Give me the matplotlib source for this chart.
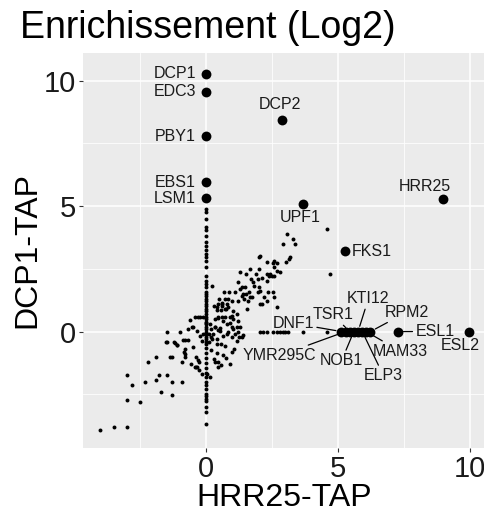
import matplotlib
matplotlib.use("Agg")
import matplotlib.pyplot as plt

plt.rcParams['font.family'] = ['Liberation Sans', 'DejaVu Sans']

# Labelled proteins (log2 enrichment in each pull-down)
GENES = ["DCP1", "EDC3", "PBY1", "EBS1", "LSM1", "DCP2", "HRR25", "UPF1", "FKS1",
         "DNF1", "YMR295C", "TSR1", "NOB1", "KTI12", "ELP3", "MAM33", "RPM2",
         "ESL1", "ESL2"]
GX = [0.0, 0.0, 0.0, 0.0, 0.0, 2.88, 8.98, 3.67, 5.27,
      5.13, 5.29, 5.44, 5.60, 5.76, 5.92, 6.07, 6.23,
      7.27, 9.96]
GY = [10.28, 9.56, 7.78, 5.95, 5.32, 8.45, 5.28, 5.08, 3.20,
      0.0, 0.0, 0.0, 0.0, 0.0, 0.0, 0.0, 0.0,
      0.0, 0.0]

# Label placement (text anchor) and whether a leader segment is drawn
LABEL_X = [-0.38, -0.38, -0.38, -0.38, -0.38, 2.80, 8.30, 3.56, 5.53,
           3.31, 2.80, 4.82, 5.14, 6.15, 6.72, 7.35, 7.60,
           8.67, 9.62]
LABEL_Y = [10.28, 9.56, 7.78, 5.95, 5.32, 9.06, 5.79, 4.54, 3.21,
           0.33, -0.95, 0.66, -1.15, 1.30, -1.75, -0.78, 0.77,
           0.0, -0.56]
LABEL_HA = ["right", "right", "right", "right", "right", "center", "center", "center", "left",
            "center", "center", "center", "center", "center", "center", "center", "center",
            "center", "center"]
LEADER = [False, False, False, False, False, False, False, False, False,
          True, True, True, True, True, True, True, True,
          True, False]

# Remaining proteins (unlabelled)
X_BG = [
    # column of proteins only detected with DCP1-TAP
    0, 0, 0, 0, 0, 0, 0, 0, 0, 0, 0, 0, 0, 0, 0, 0, 0, 0, 0, 0,
    0, 0, 0, 0, 0, 0, 0, 0, 0, 0, 0, 0, 0, 0, 0, 0, 0, 0, 0, 0,
    0, 0, 0, 0, 0, 0, 0, 0, 0, 0, 0, 0, 0, 0, 0, 0, 0,
    # lower left
    -4.01, -3.48, -2.99, -2.99, -2.49, -2.99, -2.79, -2.30, -2.20, -1.89,
    -1.79, -1.49, -1.69, -1.30, -1.30, -0.90, -0.90, -0.39, -0.29, -1.88,
    -1.29, -0.78, -1.49, -1.49, -1.17, -1.09, -0.98, -0.88, -0.78, -0.68,
    -0.69, -0.82, -0.49, -0.49, -0.35, -0.39, -0.35, -0.25, -0.23, -0.52,
    -0.80, -0.80, -1.52, -1.21, -1.11, -1.36, -0.10, -0.42, -0.23, -0.16,
    -0.42, -0.25, -0.12, -0.55, -0.30, -0.15, -0.60,
    # around the origin, right side
    0.10, 0.15, 0.20, 0.12, 0.18, 0.35, 0.45, 0.52, 0.56, 0.40,
    0.78, 0.90, 1.00, 1.16, 0.78, 0.34, 0.47, 0.60, 0.72, 0.40,
    0.55, 0.76, 0.29, 0.45, 0.60, 0.72, 0.02, 0.15, 0.34, 0.47,
    0.20, 0.40, 0.66, 1.00, 0.47, 0.30, 0.55, 0.75, 1.05, 0.90,
    0.28, 0.34, 0.22, 0.40, 0.72, 0.53, 0.66, 0.85, 0.97, 1.38,
    1.03, 1.29, 1.22, 0.91, 0.66, 0.47, 1.16, 1.03, 0.85, 0.72,
    0.59, 0.40, 1.54, 0.97, 1.03, 1.16, 1.22, 1.10, 1.24, 1.41,
    0.22,
    # rising cloud
    0.49, 0.85, 0.97, 1.22, 1.60, 2.11, 0.59, 0.78, 0.69, 0.88,
    1.10, 1.29, 1.40, 1.50, 1.62, 1.67, 1.98, 1.20, 1.38, 1.49,
    2.00, 2.36, 2.59, 2.21, 1.70, 1.77, 1.83, 2.11, 2.30, 2.40,
    2.50, 2.59, 1.29, 1.50, 1.89, 1.98, 1.67, 2.00, 2.30, 2.00,
    2.59, 2.68, 3.03, 3.14, 3.19, 2.59, 2.81, 2.90, 3.08, 3.28,
    3.38, 4.58, 4.68, 1.73, 2.05, 2.30, 2.42, 2.68, 2.55, 2.05,
    2.05, 2.30, 2.55, 2.68, 1.45, 1.36,
    # row of proteins only detected with HRR25-TAP
    2.05, 2.17, 2.30, 2.55, 2.68, 2.80, 2.90, 2.99, 3.12, 3.69, 4.57,
]
Y_BG = [
    4.89, 4.76, 4.50, 4.17, 4.04, 3.81, 3.57, 3.41, 3.24, 3.08,
    2.98, 2.82, 2.58, 2.22, 2.02, 1.89, 1.76, 1.56, 1.43, 1.30,
    1.20, 1.10, 1.00, 0.90, 0.80, 0.70, 0.60, 0.50, 0.40, 0.30,
    0.20, 0.10, 0.00, -0.10, -0.20, -0.30, -0.40, -0.50, -0.65, -0.87,
    -1.07, -1.27, -1.47, -1.67, -1.83, -2.02, -2.12, -2.27, -2.47, -2.58,
    -2.67, -2.77, -3.00, -3.20, -3.70, 1.50, 0.35,
    # lower left
    -3.92, -3.81, -3.81, -2.71, -2.82, -1.72, -2.12, -2.02, -1.22, -1.92,
    -1.72, -1.72, -2.42, -2.51, -2.02, -2.02, -1.22, -1.42, -1.15, -1.00,
    -1.00, -1.00, -0.03, -0.41, -0.45, -0.54, -0.03, -0.32, -0.32, -0.32,
    0.11, -0.82, -0.62, 0.17, 0.04, -1.02, -1.42, -1.22, -0.16, 0.20,
    -0.69, -0.89, -0.42, -0.42, -0.53, -1.00, -0.10, 0.60, 0.60, -1.68,
    -1.42, -1.55, 0.60, -1.30, 0.60, -0.36, 0.45,
    # around the origin, right side
    -0.10, 0.30, -0.20, -0.40, 0.10, 0.20, 0.05, 0.15, -0.50, -0.30,
    0.30, 0.35, 0.20, -0.36, -0.10, 0.52, 0.55, 0.57, 0.57, 0.84,
    0.86, 0.90, 1.00, 1.10, 1.15, 1.30, -1.68, -1.81, -1.22, -1.42,
    -0.75, -0.85, -0.95, -0.80, -1.20, -1.10, -1.35, -1.05, -0.70, -1.30,
    -0.09, 0.17, -0.29, -0.49, -0.56, 0.04, -0.16, -0.03, -0.22, -0.22,
    0.11, 0.17, 0.44, 0.57, 0.44, 0.57, 0.70, 0.83, 0.96, 0.90,
    1.03, 0.96, 0.90, 0.63, 0.50, 0.17, 0.00, -0.10, -0.22, -0.15,
    1.80,
    # rising cloud
    1.30, 1.30, 1.23, 1.23, 1.23, 1.10, 1.10, 1.10, 1.59, 1.59,
    1.59, 1.69, 1.48, 1.48, 1.56, 1.36, 1.59, 1.98, 1.79, 1.79,
    1.79, 1.56, 1.39, 1.39, 2.09, 1.96, 1.83, 2.13, 2.29, 2.22,
    2.22, 2.22, 2.38, 2.29, 2.29, 2.09, 2.49, 2.49, 2.79, 2.98,
    2.82, 2.75, 2.78, 2.91, 2.98, 2.58, 2.38, 3.48, 3.90, 3.68,
    3.48, 4.07, 2.29, 1.36, 1.63, 2.02, 2.29, 2.42, 2.75, 3.02,
    1.10, 1.23, 1.56, 0.96, 1.30, 1.43,
    # row of proteins only detected with HRR25-TAP
    0.00, 0.00, 0.00, 0.00, 0.00, 0.00, 0.00, 0.00, 0.00, 0.00, 0.00,
]

X_TICKS = [0, 5, 10]
Y_TICKS = [0, 5, 10]

fig = plt.figure(figsize=(4.85, 5.13), dpi=100)
ax = fig.add_axes([83 / 485, 65 / 513, 402 / 485, 395 / 513])
ax.set_facecolor("#EBEBEB")
for s in ax.spines.values():
    s.set_visible(False)

ax.set_xlim(-4.66, 10.57)
ax.set_ylim(-4.64, 11.1)
ax.set_xticks(X_TICKS)
ax.set_yticks(Y_TICKS)
ax.set_xticks([-2.5, 2.5, 7.5], minor=True)
ax.set_yticks([-2.5, 2.5, 7.5], minor=True)
ax.grid(which="major", color="white", linewidth=1.1)
ax.grid(which="minor", color="white", linewidth=0.55)
ax.set_axisbelow(True)
ax.tick_params(which="major", length=3, width=0.8, color="#333333",
               labelsize=21, labelcolor="#1a1a1a", pad=2)
ax.tick_params(which="minor", length=0)

ax.scatter(X_BG, Y_BG, s=8, color="black", linewidths=0, zorder=3)
ax.scatter(GX, GY, s=50, color="black", linewidths=0, zorder=4)

for g, x, y, lx, ly, ha, lead in zip(GENES, GX, GY, LABEL_X, LABEL_Y, LABEL_HA, LEADER):
    if lead:
        ax.annotate(g, xy=(x, y), xytext=(lx, ly), ha=ha, va="center",
                    fontsize=11.5, color="#1a1a1a", zorder=5,
                    arrowprops=dict(arrowstyle="-", color="black", lw=0.9,
                                    shrinkA=0, shrinkB=4))
    else:
        ax.text(lx, ly, g, ha=ha, va="center", fontsize=11.5, color="#1a1a1a", zorder=5)

ax.set_xlabel("HRR25-TAP", fontsize=23, labelpad=0)
ax.set_ylabel("DCP1-TAP", fontsize=23, labelpad=1)
fig.text(20 / 485, 1 - 28 / 513, "Enrichissement (Log2)", fontsize=27,
         ha="left", va="center")

fig.savefig("out.png", dpi=100)
